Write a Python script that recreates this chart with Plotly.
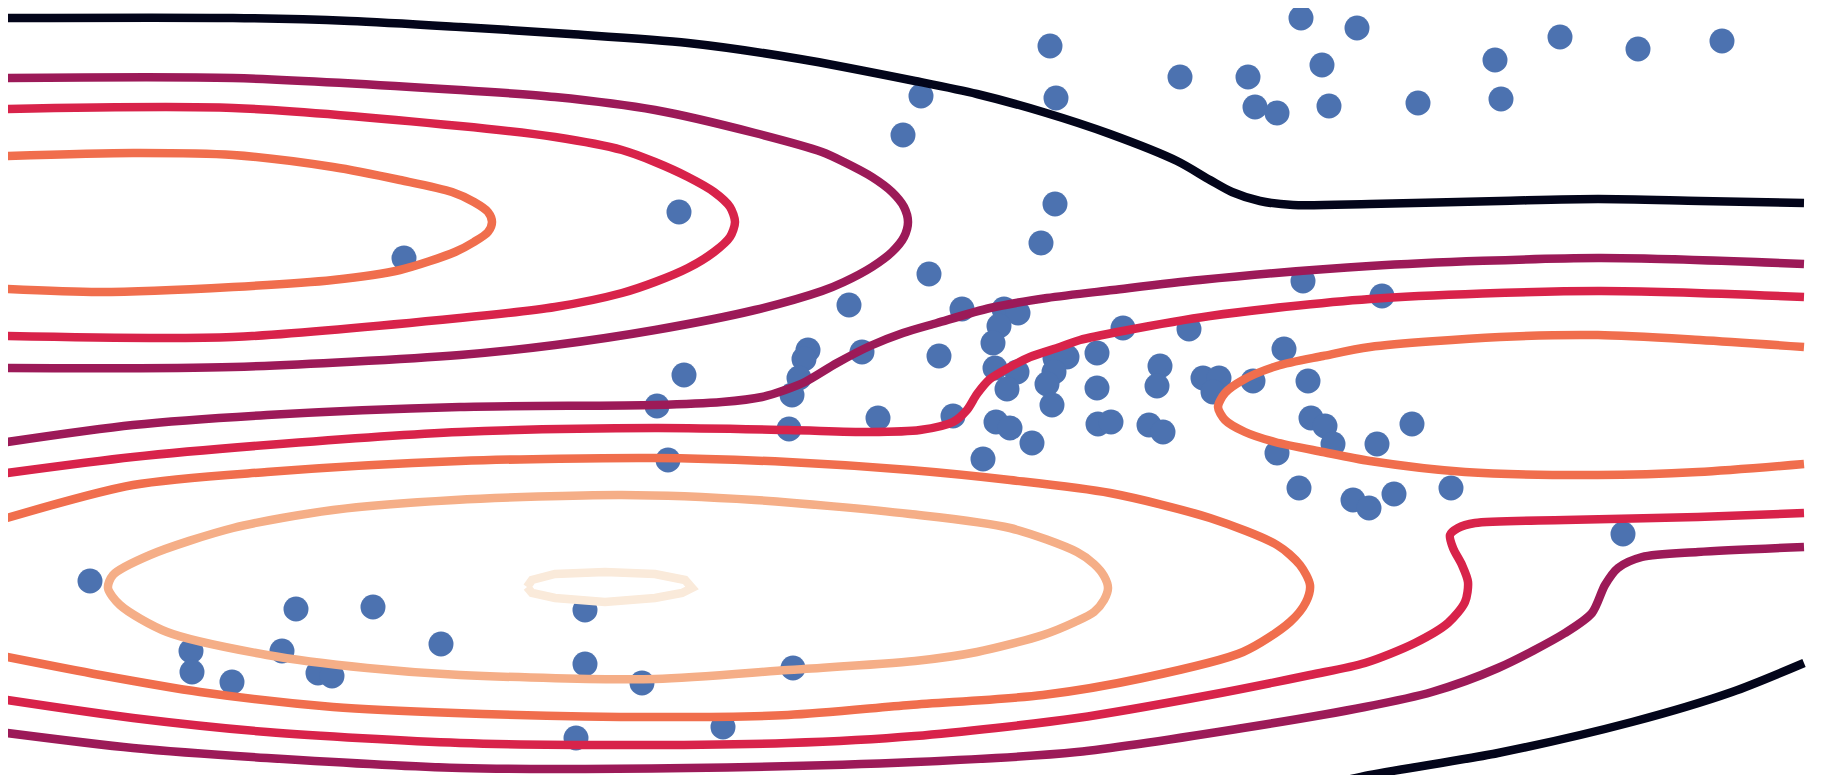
import plotly.graph_objects as go

# ---- scatter observations (x, y in plot units; y grows downward) ----
pts_x = [1301, 1357, 1050, 1056, 1180, 1248, 1255, 1277, 1322, 1329, 1495, 1560, 1638, 1722,
         1501, 1418, 921, 903, 679, 404, 1055, 1041, 929,
         849, 962, 1004, 1018, 999, 993, 939, 862, 808, 804, 799, 792, 789, 878, 953, 983,
         995, 1017, 1007, 1055, 1067, 1054, 1047, 1052, 1097, 1097, 1123, 1189, 1160, 1157,
         1098, 1111, 996, 1010, 1032, 1149, 1163, 1303, 1382, 1284, 1203, 1219, 1213, 1253,
         1308, 1311, 1325, 1333, 1277, 1377, 1412, 1299, 1353, 1369, 1394, 1451, 1623,
         684, 657, 668,
         90, 296, 373, 441, 191, 192, 232, 282, 318, 332, 585, 585, 642, 793, 723, 576]
pts_y = [18, 28, 46, 98, 77, 77, 107, 113, 65, 106, 60, 37, 49, 41,
         99, 103, 96, 135, 212, 258, 204, 243, 274,
         305, 309, 309, 313, 326, 343, 356, 352, 350, 359, 378, 395, 429, 418, 416, 459,
         368, 372, 389, 358, 357, 372, 384, 405, 353, 388, 328, 329, 366, 386,
         424, 422, 422, 428, 443, 425, 432, 281, 296, 349, 378, 378, 392, 381,
         381, 418, 426, 444, 453, 444, 424, 488, 500, 508, 494, 488, 534,
         375, 406, 460,
         581, 609, 607, 644, 651, 672, 682, 651, 673, 676, 610, 664, 683, 668, 727, 738]

# ---- density contour lines (level index 0 = lowest density) ----
level0_top_x = [8, 233, 350, 460, 570, 688, 800, 915, 977, 1043, 1110, 1177, 1210, 1232, 1260, 1293, 1370, 1500, 1598, 1700, 1804]
level0_top_y = [18, 18, 21, 27, 34, 43, 59, 81, 94, 112, 134, 161, 180, 192, 201, 205, 204, 201, 199, 201, 203]
level0_bot_x = [1310, 1365, 1498, 1632, 1732, 1804]
level0_bot_y = [790, 776, 753, 722, 692, 663]

level1_loop_x = [7, 233, 460, 555, 655, 755, 822, 844, 872, 892, 904, 908, 904, 892, 872, 844, 822, 755, 655, 555, 460, 233, 7]
level1_loop_y = [78, 78, 90, 97, 110, 133, 152, 162, 177, 192, 207, 222, 237, 252, 267, 282, 291, 310, 330, 345, 355, 367, 368]
level1_mid_x = [7, 133, 267, 460, 655, 722, 762, 785, 805, 837, 870, 903, 937, 990, 1047, 1113, 1200, 1370, 1598, 1804]
level1_mid_y = [442, 425, 415, 407, 405, 402, 397, 390, 382, 363, 346, 333, 323, 308, 298, 290, 280, 266, 258, 264]
level1_bot_x = [7, 133, 267, 460, 688, 915, 1077, 1243, 1365, 1432, 1498, 1565, 1592, 1605, 1618, 1642, 1698, 1804]
level1_bot_y = [733, 748, 758, 768, 768, 762, 752, 728, 707, 692, 668, 633, 613, 585, 568, 557, 552, 547]

level2_loop_x = [7, 233, 460, 555, 622, 655, 688, 714, 730, 735, 730, 714, 688, 655, 622, 555, 460, 233, 7]
level2_loop_y = [109, 108, 126, 137, 150, 162, 177, 192, 207, 222, 237, 252, 268, 282, 293, 307, 318, 337, 336]
level2_mid_x = [7, 133, 267, 460, 655, 788, 870, 920, 953, 967, 977, 990, 1010, 1030, 1060, 1080, 1123, 1210, 1370, 1598, 1804]
level2_mid_y = [473, 457, 445, 432, 428, 430, 432, 430, 422, 410, 394, 379, 367, 357, 347, 340, 331, 316, 299, 291, 297]
level2_bot_x = [7, 133, 267, 460, 622, 788, 915, 1077, 1210, 1310, 1365, 1415, 1448, 1465, 1468, 1462, 1453, 1450, 1458, 1475, 1565, 1698, 1804]
level2_bot_y = [700, 718, 732, 743, 745, 743, 736, 718, 695, 675, 663, 643, 623, 602, 582, 565, 548, 535, 528, 523, 520, 517, 513]

level3_loop_x = [7, 133, 233, 333, 400, 452, 474, 488, 492, 488, 474, 455, 400, 333, 233, 100, 7]
level3_loop_y = [156, 153, 155, 167, 180, 192, 202, 212, 222, 232, 242, 252, 270, 280, 287, 292, 289]
level3_low_x = [7, 133, 267, 460, 655, 788, 910, 1010, 1110, 1210, 1277, 1300, 1310, 1306, 1290, 1243, 1143, 1043, 910, 788, 655, 455, 333, 200, 100, 7]
level3_low_y = [518, 485, 472, 461, 458, 462, 470, 480, 493, 518, 545, 565, 585, 602, 622, 652, 678, 695, 705, 715, 717, 713, 707, 692, 675, 657]
level3_right_x = [1804, 1700, 1598, 1500, 1370, 1323, 1277, 1243, 1225, 1218, 1225, 1245, 1275, 1323, 1370, 1465, 1598, 1698, 1804]
level3_right_y = [347, 340, 335, 337, 347, 356, 366, 380, 393, 407, 420, 432, 442, 452, 461, 472, 475, 472, 464]

level4_loop_x = [455, 333, 233, 150, 113, 108, 120, 167, 267, 367, 460, 655, 788, 915, 977, 1043, 1075, 1094, 1104, 1108, 1104, 1094, 1077, 1010, 910, 755, 622, 455]
level4_loop_y = [500, 510, 528, 555, 575, 588, 605, 632, 655, 668, 675, 679, 670, 661, 652, 635, 622, 612, 600, 588, 576, 564, 552, 528, 514, 500, 495, 500]

level5_loop_x = [527, 532, 555, 605, 655, 685, 692, 682, 655, 605, 555, 532, 527]
level5_loop_y = [587, 580, 574, 572, 574, 580, 588, 593, 598, 602, 598, 593, 587]

level_colors = ["#03051A", "#9C1A58", "#D8234A", "#F06E4D", "#F5AE87", "#FAEADA"]

contours = [
    (level0_top_x, level0_top_y, 0), (level0_bot_x, level0_bot_y, 0),
    (level1_loop_x, level1_loop_y, 1), (level1_mid_x, level1_mid_y, 1), (level1_bot_x, level1_bot_y, 1),
    (level2_loop_x, level2_loop_y, 2), (level2_mid_x, level2_mid_y, 2), (level2_bot_x, level2_bot_y, 2),
    (level3_loop_x, level3_loop_y, 3), (level3_low_x, level3_low_y, 3), (level3_right_x, level3_right_y, 3),
    (level4_loop_x, level4_loop_y, 4),
    (level5_loop_x, level5_loop_y, 5),
]

fig = go.Figure()
fig.add_trace(go.Scatter(x=pts_x, y=pts_y, mode="markers",
                         marker=dict(size=25, color="#4C72B0", line=dict(width=0)),
                         showlegend=False, hoverinfo="skip"))
for cx, cy, lev in contours:
    fig.add_trace(go.Scatter(x=cx, y=cy, mode="lines",
                             line=dict(color=level_colors[lev], width=8.5,
                                       shape="linear" if lev == 5 else "spline", smoothing=0.8),
                             showlegend=False, hoverinfo="skip"))

# page body has an 8px margin, so offset the ranges to align with the window
fig.update_layout(width=1823, height=775, margin=dict(l=0, r=0, t=0, b=0),
                  paper_bgcolor="white", plot_bgcolor="white")
fig.update_xaxes(range=[8, 1831], visible=False, showgrid=False, zeroline=False)
fig.update_yaxes(range=[783, 8], visible=False, showgrid=False, zeroline=False)
fig.write_html("out.html")
